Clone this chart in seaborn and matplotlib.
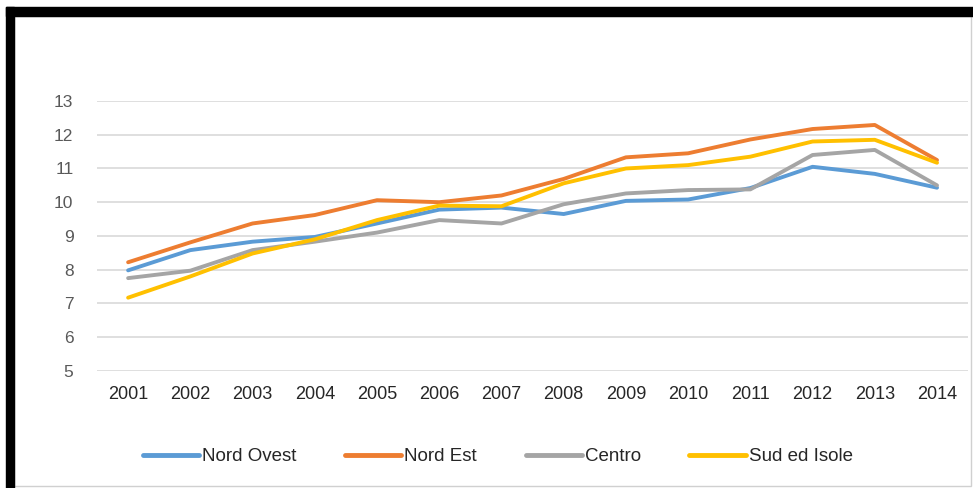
import matplotlib
matplotlib.use("Agg")
import matplotlib.pyplot as plt
import seaborn as sns
import pandas as pd
from matplotlib.patches import Rectangle

years = ["2001", "2002", "2003", "2004", "2005", "2006", "2007",
         "2008", "2009", "2010", "2011", "2012", "2013", "2014"]
nord_ovest = [7.98, 8.58, 8.83, 8.97, 9.37, 9.78, 9.84, 9.65, 10.04, 10.08, 10.42, 11.05, 10.84, 10.43]
nord_est = [8.22, 8.81, 9.37, 9.62, 10.06, 10.0, 10.2, 10.69, 11.33, 11.45, 11.86, 12.17, 12.29, 11.25]
centro = [7.75, 7.97, 8.58, 8.83, 9.1, 9.47, 9.37, 9.94, 10.26, 10.36, 10.38, 11.4, 11.55, 10.5]
sud_isole = [7.17, 7.8, 8.48, 8.9, 9.47, 9.9, 9.88, 10.56, 11.0, 11.1, 11.35, 11.8, 11.85, 11.17]
series_names = ["Nord Ovest", "Nord Est", "Centro", "Sud ed Isole"]
colors = ["#5B9BD5", "#ED7D31", "#A5A5A5", "#FFC000"]
yticks = [5, 6, 7, 8, 9, 10, 11, 12, 13]

rows = []
for name, vals in zip(series_names, [nord_ovest, nord_est, centro, sud_isole]):
    for i, (y, v) in enumerate(zip(years, vals)):
        rows.append({"idx": i, "year": y, "value": v, "serie": name})
df = pd.DataFrame(rows)

sns.set_theme(style="white")
plt.rcParams["font.family"] = ["Liberation Sans", "DejaVu Sans"]

fig = plt.figure(figsize=(9.73, 4.88), dpi=100)
ax = fig.add_axes([0.0997, 0.240, 0.8953, 0.553])

sns.lineplot(data=df, x="idx", y="value", hue="serie", hue_order=series_names,
             palette=colors, linewidth=2.8, ax=ax, sort=False)

ax.set_xlim(-0.5, len(years) - 0.5)
ax.set_ylim(5, 13)
ax.set_yticks(yticks)
ax.set_yticklabels([str(t) for t in yticks])
ax.set_xticks(range(len(years)))
ax.set_xticklabels(years)
ax.set_xlabel("")
ax.set_ylabel("")
ax.grid(axis="y", color="#D9D9D9", linewidth=1.2)
ax.set_axisbelow(True)
for s in ax.spines.values():
    s.set_visible(False)
ax.tick_params(axis="both", length=0)
ax.tick_params(axis="y", pad=17, labelsize=12.5, labelcolor="#595959")
ax.tick_params(axis="x", pad=11, labelsize=13, labelcolor="#262626")

leg = ax.legend(loc="center", bbox_to_anchor=(0.46, -0.318), ncol=4, frameon=False,
                fontsize=13.5, handlelength=3.0, handletextpad=0.15, columnspacing=2.6)
for line in leg.get_lines():
    line.set_linewidth(3.5)
for t in leg.get_texts():
    t.set_color("#262626")

# outer frame: thick black top/left, light right/bottom
fig.add_artist(Rectangle((6 / 973, 1 - 16 / 488), 1 - 6 / 973, 9 / 488,
                         transform=fig.transFigure, color="black", zorder=10))
fig.add_artist(Rectangle((6 / 973, 0), 8 / 973, 1 - 7 / 488,
                         transform=fig.transFigure, color="black", zorder=10))
fig.add_artist(Rectangle((14 / 973, 2 / 488), 1 - 16 / 973, 1 - 18 / 488,
                         transform=fig.transFigure, fill=False, edgecolor="#D0D0D0",
                         linewidth=1, zorder=9))

fig.savefig("out.png", dpi=100)
